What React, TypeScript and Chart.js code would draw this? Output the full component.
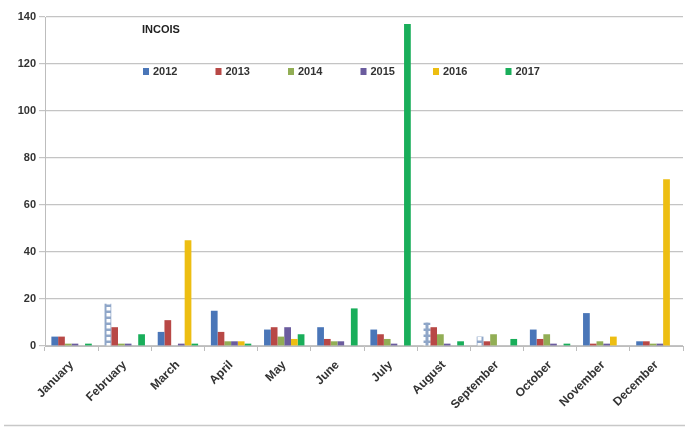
import React, { useEffect, useRef } from "react";
import { Chart, registerables } from "chart.js";
Chart.register(...registerables);

const months = ["January", "February", "March", "April", "May", "June", "July", "August", "September", "October", "November", "December"];
const y2012 = [4, 18, 6, 15, 7, 8, 7, 10, 4, 7, 14, 2];
const y2013 = [4, 8, 11, 6, 8, 3, 5, 8, 2, 3, 1, 2];
const y2014 = [1, 1, 0, 2, 4, 2, 3, 5, 5, 5, 2, 1];
const y2015 = [1, 1, 1, 2, 8, 2, 1, 1, 0, 1, 1, 1];
const y2016 = [0, 0, 45, 2, 3, 0, 0, 0, 0, 0, 4, 71];
const y2017 = [1, 5, 1, 1, 5, 16, 137, 2, 3, 1, 0, 0];
const hatched2012 = [1, 7, 8];
const seriesLabels = ["2012", "2013", "2014", "2015", "2016", "2017"];
const colors = ["#4A76B8", "#B84846", "#92AE55", "#6B5C9E", "#EDBE12", "#19AE5A"];
const yTicks = [0, 20, 40, 60, 80, 100, 120, 140];

function makePattern(): CanvasPattern | string {
  const c = document.createElement("canvas");
  c.width = 7;
  c.height = 6;
  const g = c.getContext("2d");
  if (!g) return colors[0];
  g.fillStyle = "#8FA6C8";
  g.fillRect(0, 0, 7, 6);
  g.fillStyle = "#FFFFFF";
  g.fillRect(1.5, 1, 4, 3.5);
  const p = g.createPattern(c, "repeat");
  return p || colors[0];
}

const overlayPlugin = {
  id: "overlay",
  afterDraw(chart: any) {
    const ctx = chart.ctx;
    ctx.save();
    ctx.fillStyle = "#222";
    ctx.font = "bold 11px 'Liberation Sans', Arial, sans-serif";
    ctx.textBaseline = "middle";
    ctx.textAlign = "left";
    ctx.fillText("INCOIS", 142, 30);
    const startX = 143;
    const step = 72.5;
    chart.data.datasets.forEach((ds: any, i: number) => {
      const x = startX + i * step;
      ctx.fillStyle = colors[i];
      ctx.fillRect(x, 68, 6, 7);
      ctx.fillStyle = "#333";
      ctx.fillText(ds.label, x + 10, 72);
    });
    ctx.strokeStyle = "#C8C8C8";
    ctx.lineWidth = 1.5;
    ctx.beginPath();
    ctx.moveTo(4, 425.5);
    ctx.lineTo(685, 425.5);
    ctx.stroke();
    ctx.restore();
  },
};

export default function App() {
  const ref = useRef<HTMLCanvasElement>(null);
  useEffect(() => {
    if (!ref.current) return;
    const pat = makePattern();
    const data = [y2012, y2013, y2014, y2015, y2016, y2017];
    const datasets = data.map((d, i) => ({
      label: seriesLabels[i],
      data: d,
      backgroundColor: i === 0 ? d.map((_, j) => (hatched2012.includes(j) ? pat : colors[0])) : colors[i],
      borderWidth: 0,
      categoryPercentage: 0.76,
      barPercentage: 1.0,
    }));
    const chart = new Chart(ref.current, {
      type: "bar",
      data: { labels: months, datasets: datasets as any },
      plugins: [overlayPlugin],
      options: {
        animation: false,
        responsive: false,
        maintainAspectRatio: false,
        layout: { padding: { top: 17, right: 2, left: 0, bottom: 0 } },
        plugins: { legend: { display: false }, tooltip: { enabled: false } },
        scales: {
          x: {
            offset: true,
            afterFit: (s: any) => {
              s.height = 82;
            },
            grid: { display: true, drawOnChartArea: false, drawTicks: true, tickLength: 5, color: "#BDBDBD", offset: true },
            border: { color: "#BDBDBD" },
            ticks: {
              minRotation: 45,
              maxRotation: 45,
              color: "#333",
              font: { family: "'Liberation Sans', Arial, sans-serif", size: 12, weight: "bold" },
              padding: 7,
            },
          },
          y: {
            min: 0,
            max: 140,
            afterFit: (s: any) => {
              s.width = 45;
            },
            afterBuildTicks: (axis: any) => {
              axis.ticks = yTicks.map((v) => ({ value: v }));
            },
            grid: { color: "#C4C4C4", tickLength: 6, lineWidth: 1.2 },
            border: { color: "#BDBDBD" },
            ticks: {
              color: "#333",
              font: { family: "'Liberation Sans', Arial, sans-serif", size: 11, weight: "bold" },
              padding: 3,
            },
          },
        },
      },
    });
    return () => chart.destroy();
  }, []);
  return (
    <div style={{ position: "fixed", left: 0, top: 0, width: 685, height: 428, background: "#fff" }}>
      <canvas ref={ref} width={685} height={428} style={{ width: 685, height: 428 }} />
    </div>
  );
}
